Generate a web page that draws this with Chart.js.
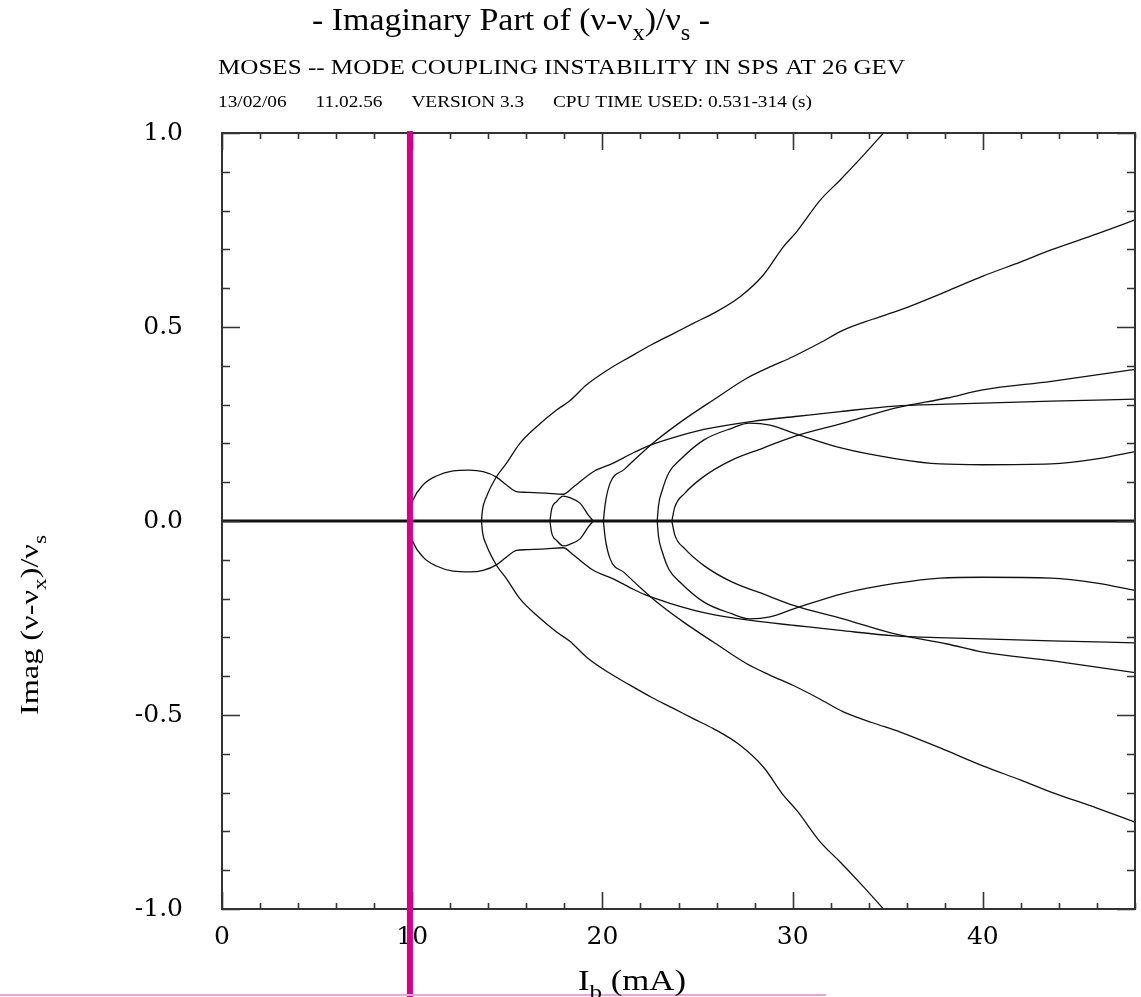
<!DOCTYPE html>
<html>
<head>
<meta charset="utf-8">
<script src="https://cdn.jsdelivr.net/npm/chart.js@4.4.1/dist/chart.umd.min.js"></script>
<style>
html, body { margin: 0; padding: 0; background: #fff; }
</style>
</head>
<body>
<canvas id="myChart" width="1141" height="997"></canvas>
<script>
// eixos
const xTicks = [0, 10, 20, 30, 40];
const yTicks = [-1.0, -0.5, 0.0, 0.5, 1.0];
const markerCurrent = 9.88; // linha vertical magenta (mA)

// modos com parte imaginaria nula
const zeroX = [0, 48];
const zeroY = [0, 0];

// circulo grande -> patamar -> ramo que termina em 0.31
const modeAx = [9.83, 9.9, 10.04, 10.57, 11.27, 12.15, 13.0, 13.73, 14.43, 14.96, 15.48, 16.01, 17.0, 17.94, 18.46, 19.52, 20.57, 21.62, 22.24, 23.55, 25.34, 27.9, 30.27, 32.5, 35.38, 38.12, 40.0, 43.6, 48.0];
const modeAup = [0, 0.03, 0.054, 0.093, 0.116, 0.129, 0.131, 0.127, 0.113, 0.093, 0.076, 0.074, 0.072, 0.069, 0.087, 0.127, 0.149, 0.176, 0.19, 0.212, 0.236, 0.257, 0.27, 0.282, 0.296, 0.301, 0.304, 0.309, 0.314];
const modeAdown = [0, -0.03, -0.054, -0.093, -0.116, -0.129, -0.131, -0.127, -0.113, -0.093, -0.076, -0.074, -0.072, -0.069, -0.087, -0.127, -0.149, -0.176, -0.19, -0.212, -0.236, -0.257, -0.27, -0.282, -0.296, -0.301, -0.304, -0.309, -0.314];

// circulo pequeno
const modeCx = [17.24, 17.33, 17.59, 17.94, 18.29, 18.82, 19.25, 19.52];
const modeCup = [0, 0.03, 0.05, 0.064, 0.06, 0.046, 0.016, 0];
const modeCdown = [0, -0.03, -0.05, -0.064, -0.06, -0.046, -0.016, 0];

// ramo mais inclinado (sai do grafico em 1.0)
const modeSx = [13.64, 13.7, 13.9, 14.43, 14.96, 15.66, 16.54, 17.59, 18.29, 19.17, 20.3, 21.45, 22.6, 23.73, 24.8, 25.83, 27.24, 28.46, 29.52, 30.22, 31.45, 32.5, 33.73, 34.78];
const modeSup = [0, 0.03, 0.062, 0.114, 0.149, 0.2, 0.243, 0.286, 0.31, 0.351, 0.39, 0.423, 0.455, 0.483, 0.51, 0.535, 0.578, 0.634, 0.707, 0.746, 0.827, 0.879, 0.943, 1.0];
const modeSdown = [0, -0.03, -0.062, -0.114, -0.149, -0.2, -0.243, -0.286, -0.31, -0.351, -0.39, -0.423, -0.455, -0.483, -0.51, -0.535, -0.578, -0.634, -0.707, -0.746, -0.827, -0.879, -0.943, -1.0];

// ramo que termina em 0.78
const modeBx = [20.05, 20.15, 20.4, 21.15, 22.0, 22.79, 24.25, 25.83, 27.59, 28.8, 30.04, 31.4, 32.67, 34.2, 35.66, 38.0, 40.0, 42.0, 43.55, 46.0, 48.0];
const modeBup = [0, 0.045, 0.097, 0.133, 0.172, 0.206, 0.26, 0.312, 0.368, 0.397, 0.424, 0.458, 0.492, 0.52, 0.544, 0.59, 0.631, 0.668, 0.698, 0.74, 0.776];
const modeBdown = [0, -0.045, -0.097, -0.133, -0.172, -0.206, -0.26, -0.312, -0.368, -0.397, -0.424, -0.458, -0.492, -0.52, -0.544, -0.59, -0.631, -0.668, -0.698, -0.74, -0.776];

// ramo com maximo perto de 28 mA
const modeEx = [22.88, 22.95, 23.15, 23.5, 24.07, 25.34, 26.8, 27.72, 28.81, 30.09, 32.65, 35.38, 37.76, 40.0, 43.6, 46.0, 48.0];
const modeEup = [0, 0.04, 0.08, 0.125, 0.157, 0.209, 0.239, 0.252, 0.247, 0.226, 0.187, 0.161, 0.147, 0.145, 0.147, 0.16, 0.179];
const modeEdown = [0, -0.04, -0.08, -0.125, -0.157, -0.209, -0.239, -0.252, -0.247, -0.226, -0.187, -0.161, -0.147, -0.145, -0.147, -0.16, -0.179];

// ramo que termina em 0.39
const modeFx = [23.65, 23.8, 24.34, 25.34, 26.8, 28.45, 30.09, 32.65, 35.38, 38.12, 40.0, 43.6, 48.0];
const modeFup = [0, 0.035, 0.072, 0.115, 0.157, 0.188, 0.218, 0.252, 0.291, 0.317, 0.338, 0.36, 0.391];
const modeFdown = [0, -0.035, -0.072, -0.115, -0.157, -0.188, -0.218, -0.252, -0.291, -0.317, -0.338, -0.36, -0.391];

const datasets = [];
function addMode(xs, ys, width) {
    datasets.push({
        data: xs.map((x, i) => ({x: x, y: ys[i]})),
        showLine: true,
        borderColor: '#111',
        borderWidth: width,
        pointRadius: 0,
        fill: false,
        cubicInterpolationMode: 'monotone'
    });
}

addMode(modeAx, modeAup, 1.3);
addMode(modeAx, modeAdown, 1.3);
addMode(modeCx, modeCup, 1.3);
addMode(modeCx, modeCdown, 1.3);
addMode(modeSx, modeSup, 1.3);
addMode(modeSx, modeSdown, 1.3);
addMode(modeBx, modeBup, 1.3);
addMode(modeBx, modeBdown, 1.3);
addMode(modeEx, modeEup, 1.3);
addMode(modeEx, modeEdown, 1.3);
addMode(modeFx, modeFup, 1.3);
addMode(modeFx, modeFdown, 1.3);
addMode(zeroX, zeroY, 3);

// texto com subscritos, comprimido na horizontal ate a largura pedida
function drawRich(ctx, parts, x, y, size, width) {
    ctx.save();
    let total = 0;
    parts.forEach(p => {
        ctx.font = (p[1] ? size * 0.72 : size) + 'px "Liberation Serif"';
        total += ctx.measureText(p[0]).width;
    });
    ctx.translate(x, y);
    ctx.scale(width / total, 1);
    let cx = 0;
    ctx.fillStyle = '#000';
    ctx.textBaseline = 'alphabetic';
    ctx.textAlign = 'left';
    parts.forEach(p => {
        ctx.font = (p[1] ? size * 0.72 : size) + 'px "Liberation Serif"';
        ctx.fillText(p[0], cx, p[1] ? size * 0.32 : 0);
        cx += ctx.measureText(p[0]).width;
    });
    ctx.restore();
}

const moldura = {
    id: 'moldura',
    afterDatasetsDraw(chart) {
        const ctx = chart.ctx;
        const a = chart.chartArea;
        const xs = chart.scales.x;
        const ys = chart.scales.y;
        ctx.save();
        ctx.strokeStyle = '#333';
        ctx.lineWidth = 2;
        ctx.strokeRect(a.left, a.top, a.right - a.left, a.bottom - a.top);
        ctx.lineWidth = 1.6;
        ctx.beginPath();
        for (let v = 0; v <= 48; v += 2) {
            const px = Math.round(xs.getPixelForValue(v)) + 0.5;
            const len = (v % 10 === 0) ? 17 : 6;
            ctx.moveTo(px, a.bottom); ctx.lineTo(px, a.bottom - len);
            ctx.moveTo(px, a.top); ctx.lineTo(px, a.top + len);
        }
        for (let i = -10; i <= 10; i++) {
            const py = Math.round(ys.getPixelForValue(i / 10)) + 0.5;
            const len = (i % 5 === 0) ? 18 : 8;
            ctx.moveTo(a.left, py); ctx.lineTo(a.left + len, py);
            ctx.moveTo(a.right, py); ctx.lineTo(a.right - len, py);
        }
        ctx.stroke();
        ctx.restore();
    },
    afterDraw(chart) {
        const ctx = chart.ctx;
        const xs = chart.scales.x;
        ctx.save();
        // linha vertical magenta
        const mx = xs.getPixelForValue(markerCurrent);
        ctx.fillStyle = '#d4008a';
        ctx.fillRect(mx - 3, 131, 6, 997 - 131);
        // linha rosa no fundo
        ctx.fillStyle = '#f2a2da';
        ctx.fillRect(0, 994, 826, 2);
        ctx.restore();

        drawRich(ctx, [['- Imaginary Part of (\u03bd-\u03bd', 0], ['x', 1], [')/\u03bd', 0], ['s', 1], [' -', 0]], 312, 30, 31, 398);
        drawRich(ctx, [['MOSES -- MODE COUPLING INSTABILITY IN SPS AT 26 GEV', 0]], 218, 74, 22, 687);
        drawRich(ctx, [['13/02/06      11.02.56      VERSION 3.3      CPU TIME USED: 0.531-314 (s)', 0]], 218, 107, 17, 594);
        drawRich(ctx, [['I', 0], ['b', 1], [' (mA)', 0]], 578, 990, 29, 108);

        ctx.save();
        ctx.translate(38, 715);
        ctx.rotate(-Math.PI / 2);
        drawRich(ctx, [['Imag (\u03bd-\u03bd', 0], ['x', 1], [')/\u03bd', 0], ['s', 1]], 0, 0, 25, 180);
        ctx.restore();
    }
};

const ctx = document.getElementById('myChart').getContext('2d');

const myChart = new Chart(ctx, {
    type: 'scatter',
    data: { datasets: datasets },
    options: {
        responsive: false,
        animation: false,
        devicePixelRatio: 1,
        layout: { padding: { top: 133, right: 6, left: 0, bottom: 0 } },
        plugins: {
            legend: { display: false },
            tooltip: { enabled: false },
            title: { display: false }
        },
        scales: {
            x: {
                type: 'linear',
                min: 0,
                max: 48,
                afterBuildTicks: s => { s.ticks = xTicks.map(v => ({value: v})); },
                afterFit: s => { s.height = 88; },
                grid: { display: false, drawTicks: false },
                border: { display: false },
                ticks: {
                    color: '#000',
                    font: { family: '"DejaVu Serif"', size: 25, lineHeight: 1.2 },
                    padding: 13,
                    maxRotation: 0,
                    autoSkip: false
                }
            },
            y: {
                type: 'linear',
                min: -1,
                max: 1,
                afterBuildTicks: s => { s.ticks = yTicks.map(v => ({value: v})); },
                afterFit: s => { s.width = 222; },
                grid: { display: false, drawTicks: false },
                border: { display: false },
                ticks: {
                    color: '#000',
                    font: { family: '"DejaVu Serif"', size: 25, lineHeight: 1.2 },
                    padding: 39,
                    callback: v => v.toFixed(1),
                    autoSkip: false
                }
            }
        }
    },
    plugins: [moldura]
});
</script>
</body>
</html>
